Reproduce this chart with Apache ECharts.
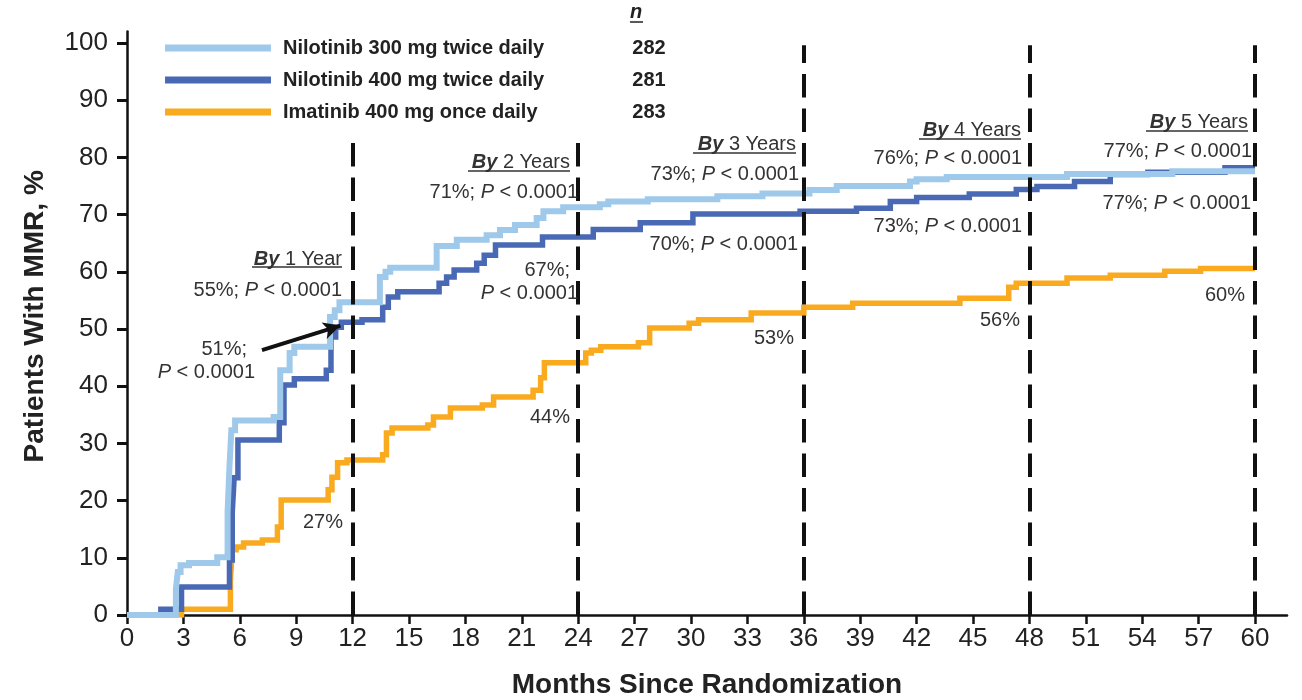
<!DOCTYPE html>
<html>
<head>
<meta charset="utf-8">
<script src="https://cdn.jsdelivr.net/npm/echarts@6/dist/echarts.min.js"></script>
<style>
html,body{margin:0;padding:0;background:#fff;}
#chart{width:1302px;height:700px;}
</style>
</head>
<body>
<div id="chart"></div>
<script>
// ---- data ----
const seriesNames = ['Nilotinib 300 mg twice daily', 'Nilotinib 400 mg twice daily', 'Imatinib 400 mg once daily'];
const seriesN = ['282', '281', '283'];

const nilo300Months = [0, 2.6, 2.7, 2.85, 3.3, 4.8, 5.35, 5.45, 5.55, 5.75, 7.8, 8.15, 8.65, 8.9, 10.8, 11.05, 11.3, 13.45, 13.75, 14.0, 16.47, 17.54, 19.13, 19.84, 20.64, 21.79, 22.15, 23.2, 25.15, 25.6, 27.7, 31.4, 33.8, 36.3, 37.75, 41.65, 42.0, 43.6, 50.0, 55.6, 60];
const nilo300Pct    = [0, 4.5, 7.5, 8.7, 9.1, 10.1, 18, 26, 32.3, 34.0, 34.6, 42.8, 45.8, 46.9, 52.1, 53.3, 54.7, 59.1, 60.0, 60.7, 64.5, 65.6, 66.4, 67.3, 68.2, 69.4, 70.6, 71.3, 71.8, 72.3, 72.7, 73.2, 73.7, 74.3, 75.0, 75.8, 76.2, 76.6, 77.1, 77.6, 77.6];

const nilo400Months = [0, 1.8, 2.9, 5.45, 5.6, 5.7, 5.9, 8.1, 8.35, 8.9, 10.6, 10.85, 11.1, 11.4, 12.5, 13.6, 13.9, 14.4, 16.6, 17.0, 17.4, 18.6, 19.0, 19.6, 22.1, 24.8, 27.3, 30.1, 35.8, 38.8, 40.6, 42.0, 44.8, 47.3, 48.4, 50.4, 52.3, 54.3, 58.4, 60];
const nilo400Pct    = [0, 1.0, 4.9, 9.6, 18, 24, 30.6, 33.6, 40.2, 41.3, 42.8, 48.6, 50.3, 51.2, 51.6, 53.8, 55.6, 56.5, 58.0, 59.1, 60.3, 61.5, 62.9, 64.7, 66.1, 67.4, 68.6, 70.1, 70.6, 71.1, 72.3, 73.0, 73.6, 74.4, 74.9, 75.8, 77.0, 77.4, 78.2, 78.2];

const imaMonths = [0, 2.9, 5.5, 5.6, 5.8, 6.2, 7.2, 8.0, 8.2, 10.7, 10.9, 11.2, 11.7, 13.6, 13.8, 14.1, 16.0, 16.3, 17.2, 18.9, 19.5, 21.6, 22.0, 22.2, 24.4, 24.7, 25.2, 27.2, 27.8, 29.9, 30.4, 33.2, 36.0, 38.6, 44.3, 46.9, 47.3, 50.0, 52.3, 55.2, 57.1, 60];
const imaPct    = [0, 1.0, 6, 11.4, 11.9, 12.6, 13.1, 15.4, 20.1, 21.9, 24.1, 26.6, 27.1, 28.0, 31.8, 32.7, 33.2, 34.6, 36.2, 36.7, 38.1, 39.3, 41.5, 44.1, 45.8, 46.3, 46.9, 47.6, 50.2, 51.0, 51.6, 52.8, 53.8, 54.5, 55.4, 57.3, 58.0, 58.9, 59.4, 60.1, 60.6, 60.6];

const xTickLabels = [0, 3, 6, 9, 12, 15, 18, 21, 24, 27, 30, 33, 36, 39, 42, 45, 48, 51, 54, 57, 60];
const yTickLabels = [0, 10, 20, 30, 40, 50, 60, 70, 80, 90, 100];
const milestoneMonths = [12, 24, 36, 48, 60];
const milestoneTops = [83, 83, 99.6, 99.6, 99.6];

// ---- build ----
function zip(xs, ys) { return xs.map((x, i) => [x, ys[i]]); }
const FONT = '"Liberation Sans", Arial, Helvetica, sans-serif';
const colors = ['#9ec9ea', '#4a69b4', '#f9aa1f'];
const nMap = {}; seriesNames.forEach((s, i) => nMap[s] = seriesN[i]);

const chart = echarts.init(document.getElementById('chart'));

const txt = '#333';
function ann(text, x, y, align) {
  return {
    type: 'text', x: x, y: y, z: 100,
    style: {
      text: text, fill: txt, font: '20px ' + FONT,
      align: align || 'right', verticalAlign: 'middle',
      rich: {
        b: { fontWeight: 'bold', fontStyle: 'italic', fontSize: 20, fontFamily: FONT, fill: '#333' },
        i: { fontStyle: 'italic', fontSize: 20, fontFamily: FONT, fill: '#333' },
        n: { fontSize: 20, fontFamily: FONT, fill: '#333' }
      }
    }
  };
}
function uline(x1, x2, y) {
  return { type: 'line', z: 100, shape: { x1: x1, y1: y, x2: x2, y2: y }, style: { stroke: '#333', lineWidth: 1.5 } };
}
const P = '{i|P}{n| < 0.0001}';

const graphics = [
  ann('{b|By}{n| 1 Year}', 342, 259), uline(252, 342, 267),
  ann('{n|55%; }' + P, 342, 290),
  ann('{n|51%;}', 247, 349),
  ann(P, 255, 372),
  ann('{n|27%}', 343, 522),
  ann('{b|By}{n| 2 Years}', 570, 162), uline(468, 570, 171),
  ann('{n|71%; }' + P, 578, 192),
  ann('{n|67%;}', 570, 270),
  ann(P, 578, 293),
  ann('{n|44%}', 570, 417),
  ann('{b|By}{n| 3 Years}', 796, 144), uline(693, 796, 153),
  ann('{n|73%; }' + P, 799, 174),
  ann('{n|70%; }' + P, 798, 244),
  ann('{n|53%}', 794, 338),
  ann('{b|By}{n| 4 Years}', 1021, 130), uline(919, 1021, 139),
  ann('{n|76%; }' + P, 1022, 158),
  ann('{n|73%; }' + P, 1022, 226),
  ann('{n|56%}', 1020, 320),
  ann('{b|By}{n| 5 Years}', 1248, 122), uline(1146, 1248, 131),
  ann('{n|77%; }' + P, 1252, 151),
  ann('{n|77%; }' + P, 1251, 203),
  ann('{n|60%}', 1245, 295),
  { type: 'text', x: 636, y: 12, z: 100, style: { text: 'n', fill: '#222', font: 'italic bold 20px ' + FONT, align: 'center', verticalAlign: 'middle' } },
  { type: 'line', z: 100, shape: { x1: 630, y1: 22, x2: 643, y2: 22 }, style: { stroke: '#222', lineWidth: 1.5 } }
];

const dashLines = milestoneMonths.map((m, i) => [
  { coord: [m, 0] }, { coord: [m, milestoneTops[i]] }
]);

const option = {
  animation: false,
  backgroundColor: '#fff',
  grid: { left: 127, right: 15, top: 31.6, bottom: 85, containLabel: false, outerBoundsMode: 'none' },
  legend: {
    data: seriesNames,
    orient: 'vertical', left: 160, top: 32,
    itemWidth: 106, itemHeight: 7, itemGap: 10, icon: 'rect',
    selectedMode: false,
    formatter: function (name) { return '{p|}{a|' + name + '}{b|' + nMap[name] + '}'; },
    textStyle: {
      fontFamily: FONT, fontSize: 20, fontWeight: 'bold', color: '#222', lineHeight: 22,
      rich: {
        p: { width: 7, lineHeight: 22 },
        a: { width: 343, fontFamily: FONT, fontSize: 20, fontWeight: 'bold', color: '#222', lineHeight: 22 },
        b: { width: 46, align: 'center', fontFamily: FONT, fontSize: 20, fontWeight: 'bold', color: '#222', lineHeight: 22 }
      }
    }
  },
  xAxis: {
    type: 'value', min: 0, max: 61.7,
    name: 'Months Since Randomization', nameLocation: 'middle', nameGap: 56,
    nameTextStyle: { fontFamily: FONT, fontSize: 28, fontWeight: 'bold', color: '#222' },
    axisLine: { lineStyle: { color: '#111', width: 2.5 } },
    axisTick: { show: true, length: 9, lineStyle: { color: '#111', width: 2.5 }, customValues: xTickLabels },
    axisLabel: { fontFamily: FONT, fontSize: 26, color: '#222', margin: 11, customValues: xTickLabels },
    splitLine: { show: false }
  },
  yAxis: {
    type: 'value', min: 0, max: 102,
    name: 'Patients With MMR, %', nameLocation: 'middle', nameGap: 78,
    nameTextStyle: { fontFamily: FONT, fontSize: 28, fontWeight: 'bold', color: '#222', padding: [0, 0, 0, 14] },
    axisLine: { show: true, lineStyle: { color: '#111', width: 2.5 } },
    axisTick: { show: true, length: 10, lineStyle: { color: '#111', width: 3 }, customValues: yTickLabels },
    axisLabel: { fontFamily: FONT, fontSize: 26, color: '#222', margin: 19, customValues: yTickLabels },
    splitLine: { show: false }
  },
  series: [
    {
      name: seriesNames[2], type: 'line', step: 'end', showSymbol: false, symbol: 'none', z: 2,
      data: zip(imaMonths, imaPct), color: colors[2],
      lineStyle: { width: 5.5, color: colors[2], cap: 'butt', join: 'miter' }
    },
    {
      name: seriesNames[1], type: 'line', step: 'end', showSymbol: false, symbol: 'none', z: 3,
      data: zip(nilo400Months, nilo400Pct), color: colors[1],
      lineStyle: { width: 5.5, color: colors[1], cap: 'butt', join: 'miter' }
    },
    {
      name: seriesNames[0], type: 'line', step: 'end', showSymbol: false, symbol: 'none', z: 4,
      data: zip(nilo300Months, nilo300Pct), color: colors[0],
      lineStyle: { width: 6, color: colors[0], cap: 'butt', join: 'miter' }
    },
    {
      name: 'milestones', type: 'line', data: [], z: 6, silent: true,
      markLine: {
        silent: true, symbol: ['none', 'none'], animation: false,
        label: { show: false },
        lineStyle: { color: '#111', width: 4, type: [23.5, 11] },
        data: dashLines
      }
    },
    {
      name: 'arrow', type: 'line', data: [], z: 7, silent: true,
      markLine: {
        silent: true, symbol: ['none', 'arrow'], symbolSize: [13, 17], animation: false,
        label: { show: false },
        lineStyle: { color: '#111', width: 4, type: 'solid' },
        data: [[{ coord: [7.18, 46.3] }, { coord: [11.35, 50.6] }]]
      }
    }
  ],
  graphic: graphics
};
chart.setOption(option);
</script>
</body>
</html>
